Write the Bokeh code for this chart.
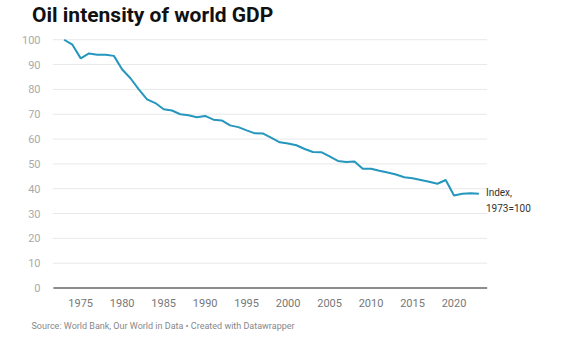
from bokeh.plotting import figure
from bokeh.models import Range1d, Title, FixedTicker, Div
from bokeh.layouts import column
from bokeh.core.properties import value
from bokeh.embed import file_html
from bokeh.resources import INLINE

years = list(range(1973, 2024))
intensity = [100, 98, 92.5, 94.5, 94, 94, 93.5, 88, 84.5, 80, 76, 74.5, 72, 71.5, 70, 69.6,
             68.8, 69.3, 67.8, 67.5, 65.5, 64.8, 63.5, 62.3, 62.2, 60.5, 58.7, 58.2, 57.5,
             56, 54.8, 54.7, 53, 51.2, 50.8, 51, 48, 48, 47.2, 46.5, 45.7, 44.6, 44.2,
             43.5, 42.8, 42, 43.5, 37.3, 38, 38.2, 38]
x_ticks = [1975, 1980, 1985, 1990, 1995, 2000, 2005, 2010, 2015, 2020]
y_ticks = [0, 10, 20, 30, 40, 50, 60, 70, 80, 90, 100]
title_text = "Oil intensity of world GDP"
source_text = "Source: World Bank, Our World in Data \u2022 Created with Datawrapper"
label_text = "Index,\n1973=100"

x_left, x_grid_end, x_right = 1971.6, 2024.0, 2033.2

head = Div(text=title_text, width=563, height=30, margin=(0, 0, 0, 0),
           styles={"font-family": "Roboto", "font-weight": "bold", "font-size": "21px",
                   "color": "#111111", "padding-left": "32px", "padding-top": "5px",
                   "line-height": "1", "box-sizing": "border-box"})

p = figure(width=563, height=310, output_backend="svg", toolbar_location=None,
           x_range=Range1d(x_left, x_right), y_range=Range1d(-0.6, 100.5),
           min_border_left=52, min_border_right=0, min_border_top=8, min_border_bottom=51,
           margin=(0, 0, 0, 0))
p.outline_line_color = None
p.background_fill_color = "white"
p.border_fill_color = "white"

src = Title(text=source_text, text_font="Roboto", text_font_size="9px",
            text_color="#888888", text_font_style="normal", align="left", offset=-21,
            standoff=18)
p.add_layout(src, "below")

# gridlines
grid_y = [t for t in y_ticks if t != 0]
p.segment(x0=[x_left] * len(grid_y), y0=grid_y, x1=[x_grid_end] * len(grid_y), y1=grid_y,
          line_color="#e8e8e8", line_width=1)
# baseline
p.segment(x0=[x_left + 0.1], y0=[0], x1=[x_grid_end], y1=[0], line_color="#8c8c8c", line_width=2)

p.line(years, intensity, line_color="#2596be", line_width=2)

p.text(x=[x_grid_end - 0.15], y=[40.7], text=[label_text], text_font=value("Roboto"),
       text_font_size="10px", text_color="#333333", text_baseline="top", text_align="left",
       text_line_height=1.45)

p.xaxis.ticker = FixedTicker(ticks=x_ticks)
p.yaxis.ticker = FixedTicker(ticks=y_ticks)
p.xaxis.axis_line_color = None
p.xaxis.major_tick_line_color = None
p.xaxis.minor_tick_line_color = None
p.xaxis.major_label_text_font = "Roboto"
p.xaxis.major_label_text_font_size = "11px"
p.xaxis.major_label_text_color = "#777777"
p.xaxis.major_label_standoff = 3
p.yaxis.axis_line_color = None
p.yaxis.major_tick_line_color = None
p.yaxis.minor_tick_line_color = None
p.yaxis.major_label_text_font = "Roboto"
p.yaxis.major_label_text_font_size = "11px"
p.yaxis.major_label_text_color = "#aaaaaa"
p.yaxis.major_label_standoff = 6
p.xgrid.grid_line_color = None
p.ygrid.grid_line_color = None

layout = column(head, p, spacing=0, margin=(0, 0, 0, 0))
open("out.html", "w").write(file_html(layout, INLINE))
